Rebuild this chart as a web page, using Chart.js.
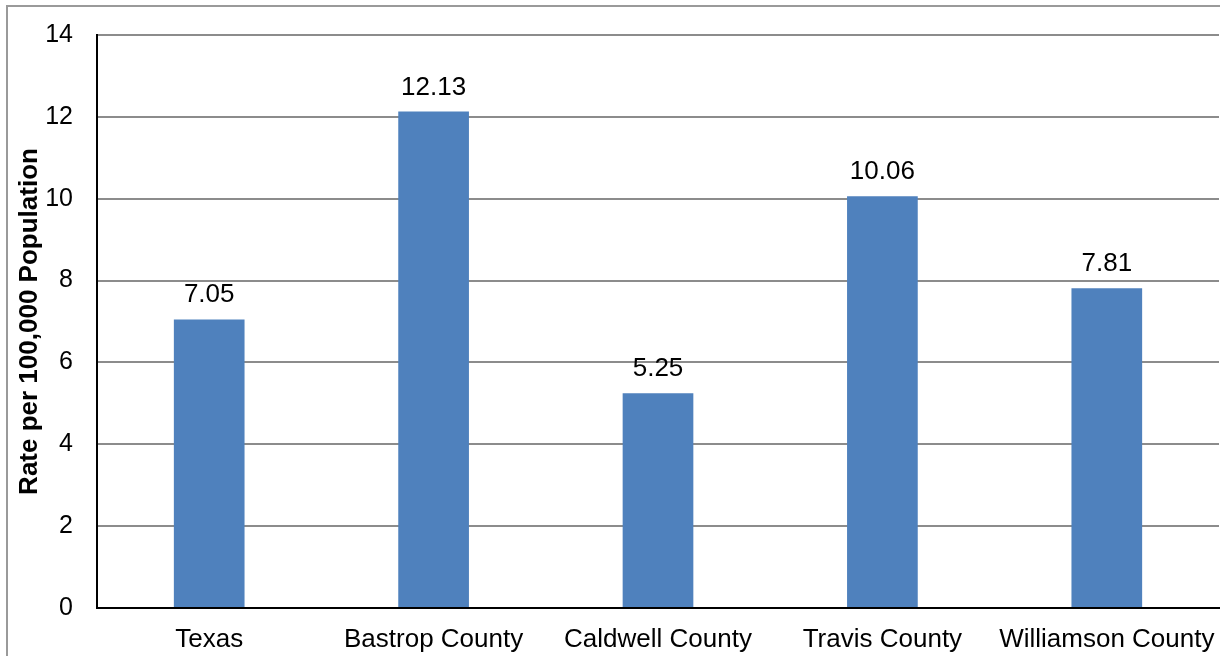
<!DOCTYPE html>
<html>
<head>
<meta charset="utf-8">
<script src="https://cdn.jsdelivr.net/npm/chart.js@4"></script>
<style>
  html, body { margin: 0; padding: 0; background: #fff; overflow: hidden; }
  #wrap { position: absolute; left: 0; top: 0; width: 1220px; height: 656px; }
  #frame { position: absolute; left: 6px; top: 5px; width: 1240px; height: 680px; border: 2px solid #9a9a9a; box-sizing: border-box; pointer-events: none; }
</style>
</head>
<body>
<div id="wrap"><canvas id="c"></canvas></div>
<div id="frame"></div>
<script>
const categories = ["Texas", "Bastrop County", "Caldwell County", "Travis County", "Williamson County"];
const rates = [7.05, 12.13, 5.25, 10.06, 7.81];
const rateLabels = ["7.05", "12.13", "5.25", "10.06", "7.81"];
const yTicks = [0, 2, 4, 6, 8, 10, 12, 14];
const yTitle = "Rate per 100,000 Population";

const FONT = "'Liberation Sans', Arial, sans-serif";

const dataLabels = {
  id: 'dataLabels',
  afterDatasetsDraw(chart) {
    const ctx = chart.ctx;
    const meta = chart.getDatasetMeta(0);
    ctx.save();
    ctx.font = "26px " + FONT;
    ctx.fillStyle = "#000";
    ctx.textAlign = "center";
    ctx.textBaseline = "alphabetic";
    meta.data.forEach((bar, i) => {
      ctx.fillText(rateLabels[i], bar.x, bar.y - 17);
    });
    ctx.restore();
  }
};

new Chart(document.getElementById('c'), {
  type: 'bar',
  data: {
    labels: categories,
    datasets: [{
      data: rates,
      backgroundColor: '#4F81BD',
      borderWidth: 0,
      barPercentage: 0.315,
      categoryPercentage: 1.0
    }]
  },
  options: {
    responsive: true,
    maintainAspectRatio: false,
    animation: false,
    layout: { padding: { left: 14, top: 35, right: 1, bottom: 0 } },
    plugins: { legend: { display: false }, tooltip: { enabled: false } },
    scales: {
      x: {
        grid: { display: false, drawTicks: false },
        border: { display: true, color: '#000', width: 2 },
        ticks: { color: '#000', font: { family: FONT, size: 26 }, padding: 16, maxRotation: 0, autoSkip: false },
        afterFit(axis) { axis.height = 48; axis.paddingLeft = 0; axis.paddingRight = 0; }
      },
      y: {
        min: 0, max: 14,
        afterBuildTicks(axis) { axis.ticks = yTicks.map(v => ({ value: v })); },
        grid: { color: '#8c8c8c', lineWidth: 2, drawTicks: false },
        border: { display: true, color: '#000', width: 2 },
        ticks: { color: '#000', font: { family: FONT, size: 25 }, padding: 24 },
        title: { display: true, text: yTitle, color: '#000', font: { family: FONT, size: 26, weight: 'bold' }, padding: { top: 0, bottom: 4 } },
        afterFit(axis) { axis.width = 83; axis.paddingTop = 0; axis.paddingBottom = 0; }
      }
    }
  },
  plugins: [dataLabels]
});
</script>
</body>
</html>
